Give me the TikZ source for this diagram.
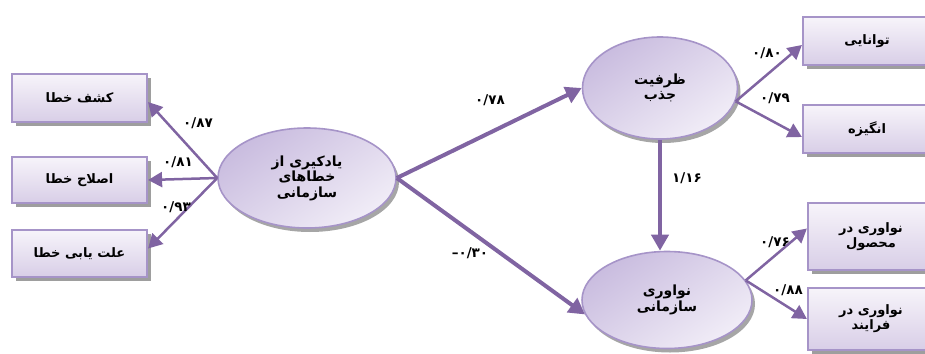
\documentclass[tikz,border=0pt]{standalone}
\usepackage{fontspec}
\newfontfamily\fa[Script=Arabic]{DejaVu Sans}
\newfontfamily\lat{DejaVu Sans}
\TeXXeTstate=1
\usetikzlibrary{shadows,arrows.meta,shapes.geometric}
\definecolor{arr}{HTML}{8064A2}
\definecolor{bord}{HTML}{A694C8}
\definecolor{boxtop}{HTML}{F7F4FA}
\definecolor{boxbot}{HTML}{D8CEE7}
\definecolor{elldark}{HTML}{C9BCDF}
\definecolor{elllight}{HTML}{F1EDF7}
\newcommand{\RL}[1]{\beginR #1\endR}
\begin{document}
\begin{tikzpicture}[x=1pt,y=-1pt,
  boxn/.style={rectangle, draw=bord, line width=2.2pt, top color=boxtop, bottom color=boxbot,
    drop shadow={shadow xshift=3.5pt, shadow yshift=-4pt, fill=black!38, opacity=1},
    font=\fa\bfseries\fontsize{13}{15}\selectfont, align=center, inner sep=0pt},
  elln/.style={ellipse, draw=bord, line width=1.6pt, top color=elldark, bottom color=elllight, shading angle=35,
    drop shadow={shadow xshift=3pt, shadow yshift=-4pt, fill=black!35, opacity=1},
    font=\fa\bfseries\fontsize{14}{15.5}\selectfont, align=center, inner sep=0pt},
  lab/.style={font=\fa\bfseries\fontsize{13.5}{15}\selectfont, inner sep=0pt},
  thick arr/.style={draw=arr, line width=4pt, -{Triangle[length=16pt,width=17pt]}},
  thin arr/.style={draw=arr, line width=2.5pt, -{Triangle[length=14pt,width=15pt]}}
]
\useasboundingbox (0,0) rectangle (925,353);

% left boxes
\node[boxn, minimum width=135pt, minimum height=48pt] (b1) at (79.5,98) {\RL{کشف خطا}};
\node[boxn, minimum width=135pt, minimum height=46pt] (b2) at (79.5,180) {\RL{اصلاح خطا}};
\node[boxn, minimum width=135pt, minimum height=47pt] (b3) at (79.5,253.5) {\RL{علت یابی خطا}};

% ellipses
\node[elln, minimum width=178pt, minimum height=100pt] (main) at (307,178)
  {\RL{یادکیری از}\\\RL{خطاهای}\\\RL{سازمانی}};
\node[elln, minimum width=155pt, minimum height=102pt] (cap) at (660,88)
  {\RL{ظرفیت}\\\RL{جذب}};
\node[elln, minimum width=170pt, minimum height=97pt] (inn) at (667,300)
  {\RL{نواوری}\\\RL{سازمانی}};

% right boxes
\node[boxn, minimum width=128pt, minimum height=48pt] (tav) at (867,41) {\RL{توانایی}};
\node[boxn, minimum width=128pt, minimum height=48pt] (ang) at (867,129) {\RL{انگیزه}};
\node[boxn, minimum width=126pt, minimum height=67pt] (mah) at (871,236.5) {\RL{نواوری در}\\\RL{محصول}};
\node[boxn, minimum width=126pt, minimum height=62pt] (far) at (871,319) {\RL{نواوری در}\\\RL{فرایند}};

% connectors
\draw[thin arr] (main.west) -- ([yshift=-4pt]b1.east);
\draw[thin arr] (main.west) -- (b2.east);
\draw[thin arr] (main.west) -- ([yshift=5pt]b3.east);
\draw[thick arr] (main.east) -- (cap.west);
\draw[thick arr] (main.east) -- (inn.190);
\draw[thick arr] (cap.south) -- (cap.south |- inn.north);
\draw[thin arr] (cap.-10) -- ([yshift=-4pt]tav.west);
\draw[thin arr] (cap.-10) -- ([yshift=-8pt]ang.west);
\draw[thin arr] (inn.14) -- ([yshift=8pt]mah.west);
\draw[thin arr] (inn.14) -- (far.west);

% labels
\node[lab] (l1) at (198,123) {۰/۸۷};
\node[lab] (l2) at (178,162) {۰/۸۱};
\node[lab] (l3) at (176,207) {۰/۹۳};
\node[lab] (l4) at (490,100) {۰/۷۸};
\node[lab] (l5) at (470,253) {{\lat\bfseries –}۰/۳۰};
\node[lab] (l6) at (687,178) {۱/۱۶};
\node[lab] (l7) at (767,53) {۰/۸۰};
\node[lab] (l8) at (775,98) {۰/۷۹};
\node[lab] (l9) at (775,242) {۰/۷۶};
\node[lab] (l10) at (788,290) {۰/۸۸};
\end{tikzpicture}
\end{document}
